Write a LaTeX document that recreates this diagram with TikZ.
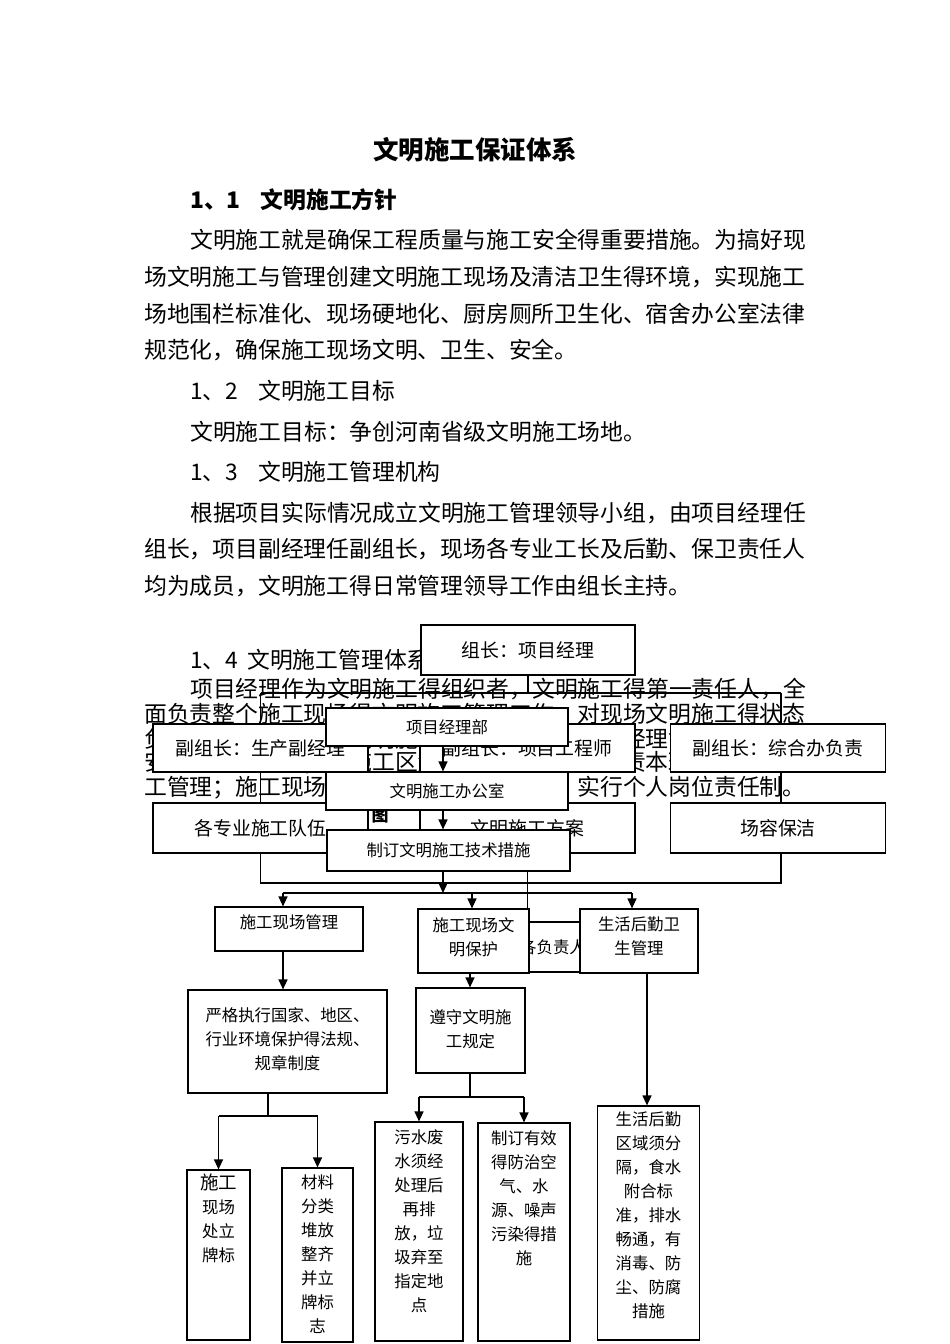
\documentclass[tikz,border=0pt]{standalone}
\usepackage{fontspec}
\setmainfont{Noto Sans CJK SC}
\usepackage{tikz}
\usetikzlibrary{arrows.meta}
\definecolor{frameInk}{HTML}{000000}
\pgfdeclarelayer{paper}
\pgfdeclarelayer{wires}
\pgfdeclarelayer{front}
\pgfsetlayers{paper,wires,main,front}
\tikzset{
  para/.style={anchor=west,inner sep=0pt,font=\fontsize{22.8}{25}\selectfont},
  orgbox/.style={draw=frameInk,fill=white,line width=1.2pt,inner sep=0pt},
  bigbox/.style={orgbox,minimum width=215pt,minimum height=48pt,font=\fontsize{18.9}{24}\selectfont},
  midbox/.style={orgbox,minimum width=242pt,minimum height=38pt,font=\fontsize{16.4}{24}\selectfont},
  boxtext/.style={anchor=north,inner sep=0pt,align=center,font=\fontsize{16.4}{24}\selectfont},
  link/.style={draw=frameInk,line width=1.2pt},
}

\begin{document}
\begin{tikzpicture}[x=1pt,y=-1pt,>={Triangle[length=10pt,width=9pt]}]
  \useasboundingbox (0,0) rectangle (950,1344);
  \begin{pgfonlayer}{paper}
    \fill[white] (0,0) rectangle (950,1344);
    \node[inner sep=0pt,font=\bfseries\fontsize{25.5}{30}\selectfont] (title) at (475,150) {文明施工保证体系};
    \node[para,font=\bfseries\fontsize{22.8}{25}\selectfont] (secA) at (190,200) {1、1\hspace{20pt}文明施工方针};
    \foreach \px/\py/\txt [count=\i] in {
      190/240/文明施工就是确保工程质量与施工安全得重要措施。为搞好现,
      144/277/场文明施工与管理创建文明施工现场及清洁卫生得环境，实现施工,
      144/314/场地围栏标准化、现场硬地化、厨房厕所卫生化、宿舍办公室法律,
      144/350/规范化，确保施工现场文明、卫生、安全。,
      190/391/1、2\hspace{20pt}文明施工目标,
      190/432/文明施工目标：争创河南省级文明施工场地。,
      190/472/1、3\hspace{20pt}文明施工管理机构,
      190/513/根据项目实际情况成立文明施工管理领导小组，由项目经理任,
      144/549/组长，项目副经理任副组长，现场各专业工长及后勤、保卫责任人,
      144/586/均为成员，文明施工得日常管理领导工作由组长主持。,
      190/660/1、4\hspace{9pt}文明施工管理体系,
      190/689/项目经理作为文明施工得组织者，文明施工得第一责任人，全,
      144/714/面负责整个施工现场得文明施工管理工作，对现场文明施工得状态,
      144/739/负责，组织落实各项文明施工管理制度，项目副经理协助组长管理,
      144/763/安全员等为成员；各施工区负责人与各班组长负责本班组得文明施,
      144/788/工管理；施工现场划分责任区域挂牌管理，实行个人岗位责任制。} {
      \node[para] (line\i) at (\px,\py) {\txt};
    }
    \node[inner sep=0pt,font=\bfseries\fontsize{17}{20}\selectfont] (tuChar) at (380,815) {图};
  \end{pgfonlayer}

  \node[bigbox,minimum width=214pt,minimum height=50pt] (zzBox) at (528,650) {组长：项目经理};
  \node[bigbox] (fzA) at (260.5,748) {副组长：生产副经理};
  \node[bigbox] (fzB) at (527.5,748) {副组长：项目工程师};
  \node[bigbox] (fzC) at (778,748) {副组长：综合办负责};
  \node[bigbox,minimum height=50pt] (tmA) at (260.5,828) {各专业施工队伍};
  \node[bigbox,minimum height=50pt] (tmB) at (527.5,828) {文明施工方案};
  \node[bigbox,minimum height=50pt] (tmC) at (778,828) {场容保洁};
  \node[midbox] (xmBox) at (447,727) {项目经理部};
  \node[midbox] (bgBox) at (447,791) {文明施工办公室};
  \node[midbox,minimum width=243pt,minimum height=41pt] (jsBox) at (448.5,850.5) {制订文明施工技术措施};

  \coordinate (busL) at (260.5,693);
  \coordinate (busR) at (781,693);
  \coordinate (botL) at (260.5,883);
  \coordinate (botR) at (781,883);
  \coordinate (spL) at (283,893);
  \coordinate (spM) at (472,893);
  \coordinate (spR) at (632,893);
  \coordinate (midCol) at (443,0);

  \node[orgbox,minimum height=50pt,font=\fontsize{16.4}{24}\selectfont] (fzBox) at (553,947) {各负责人};
  \node[orgbox,minimum width=148pt,minimum height=44pt] (sgBox) at (289,929) {};
  \node[boxtext] (sgText) at (289,914) {施工现场管理};
  \node[orgbox,minimum width=111pt,minimum height=64pt] (bhBox) at (473.5,941) {};
  \node[boxtext] (bhText) at (473.5,917) {施工现场文\\明保护};
  \node[orgbox,minimum width=118pt,minimum height=64pt] (hqBox) at (639,941) {};
  \node[boxtext] (hqText) at (639,917) {生活后勤卫\\生管理};

  \node[orgbox,minimum width=199pt,minimum height=103pt] (yzBox) at (287.5,1041.5) {};
  \node[boxtext] (yzText) at (287.5,1007) {严格执行国家、地区、\\行业环境保护得法规、\\规章制度};
  \node[orgbox,minimum width=109pt,minimum height=85pt] (zsBox) at (470.5,1030.5) {};
  \node[boxtext] (zsText) at (470.5,1009) {遵守文明施\\工规定};
  \node[orgbox,minimum width=102pt,minimum height=234pt] (hqqBox) at (648.5,1223) {};
  \node[boxtext] (hqqText) at (648.5,1112) {生活后勤\\区域须分\\隔，食水\\附合标\\准，排水\\畅通，有\\消毒、防\\尘、防腐\\措施};

  \node[orgbox,minimum width=63pt,minimum height=170pt] (pbBox) at (218.5,1255) {};
  \node[boxtext] (pbText) at (218.5,1174) {{\fontsize{18.5}{24}\selectfont 施工}\\现场\\处立\\牌标};
  \node[orgbox,minimum width=71pt,minimum height=174pt] (clBox) at (317.5,1255) {};
  \node[boxtext] (clText) at (317.5,1175) {材料\\分类\\堆放\\整齐\\并立\\牌标\\志};
  \node[orgbox,minimum width=88pt,minimum height=219pt] (wsBox) at (419,1231.5) {};
  \node[boxtext] (wsText) at (419,1129) {污水废\\水须经\\处理后\\再排\\放，垃\\圾弃至\\指定地\\点};
  \node[orgbox,minimum width=92pt,minimum height=218pt] (fyBox) at (524,1232) {};
  \node[boxtext] (fyText) at (524,1130) {制订有效\\得防治空\\气、水\\源、噪声\\污染得措\\施};

  \begin{pgfonlayer}{wires}
    \draw[link] (zzBox.south) -- (zzBox.south |- busL);
    \draw[link] (busL) -- (busR);
    \draw[link] (busL) -- (fzA.north);
    \draw[link] (busR) -- (busR |- fzC.north);
    \draw[link] (fzA.south) -- (tmA.north);
    \draw[link] (fzB.south) -- (tmB.north);
    \draw[link] (busR |- fzC.south) -- (busR |- tmC.north);
    \draw[link] (tmA.south) -- (botL) -- (botR) -- (busR |- tmC.south);
    \draw[link] (tmB.south) -- (tmB.south |- fzBox.north);
    \draw[link] (spL) -- (spR);
  \end{pgfonlayer}

  \begin{pgfonlayer}{front}
    \draw[link,->] (midCol |- xmBox.south) -- (midCol |- bgBox.north);
    \draw[link,->] (midCol |- bgBox.south) -- (midCol |- jsBox.north);
    \draw[link,->] (midCol |- jsBox.south) -- (midCol |- spL);
  \end{pgfonlayer}

  \coordinate (yzFork) at (268,1116);
  \coordinate (zsFork) at (470,1097);
  \coordinate (hqCol) at (647,0);
  \draw[link,->] (spL) -- (spL |- sgBox.north);
  \draw[link,->] (spM) -- (spM |- bhBox.north);
  \draw[link,->] (spR) -- (spR |- hqBox.north);
  \draw[link,->] (spL |- sgBox.south) -- (spL |- yzBox.north);
  \draw[link,->] (zsFork |- bhBox.south) -- (zsFork |- zsBox.north);
  \draw[link,->] (hqCol |- hqBox.south) -- (hqCol |- hqqBox.north);
  \draw[link] (yzFork |- yzBox.south) -- (yzFork) (pbBox.north |- yzFork) -- (clBox.north |- yzFork);
  \draw[link,->] (pbBox.north |- yzFork) -- (pbBox.north);
  \draw[link,->] (clBox.north |- yzFork) -- (clBox.north);
  \draw[link] (zsFork |- zsBox.south) -- (zsFork) (wsBox.north |- zsFork) -- (fyBox.north |- zsFork);
  \draw[link,->] (wsBox.north |- zsFork) -- (wsBox.north);
  \draw[link,->] (fyBox.north |- zsFork) -- (fyBox.north);
\end{tikzpicture}
\end{document}
